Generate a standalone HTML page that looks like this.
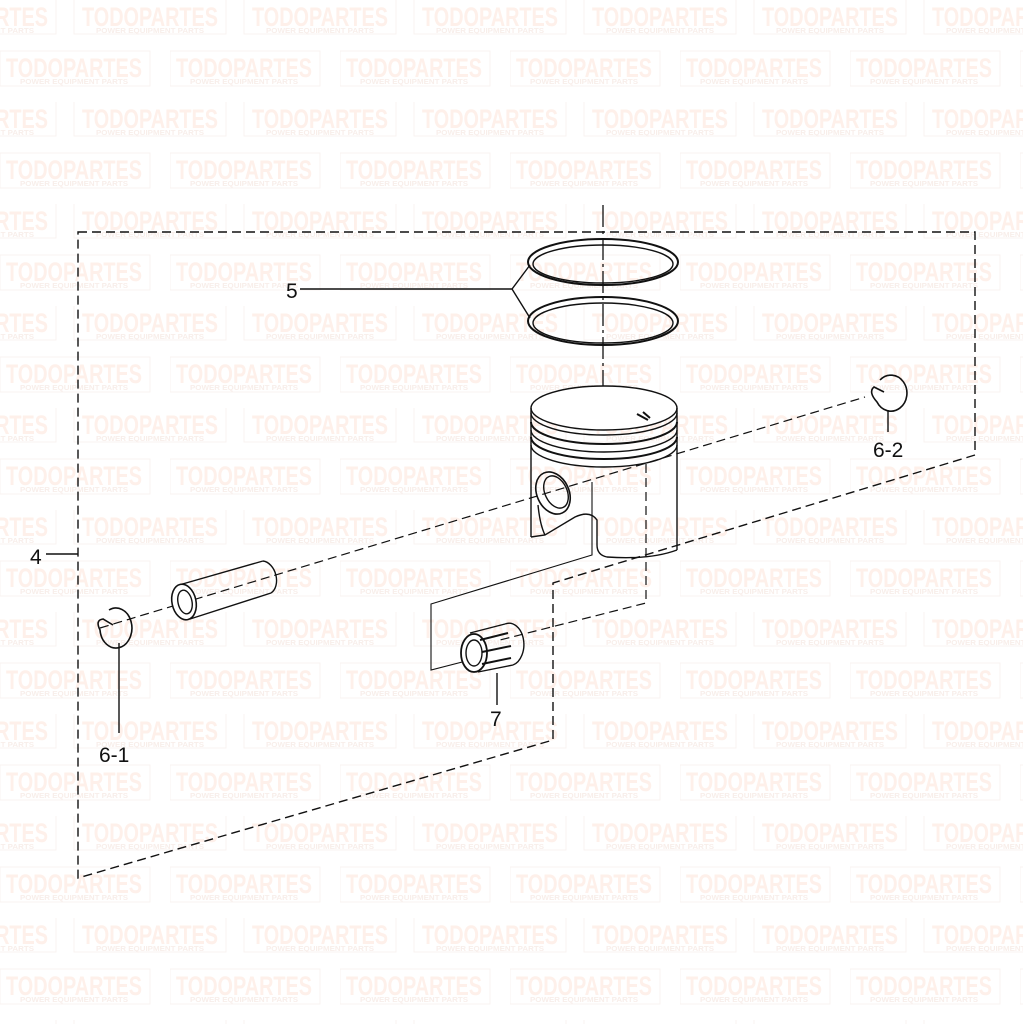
<!DOCTYPE html>
<html><head><meta charset="utf-8"><style>
html,body{margin:0;padding:0;background:#fff}
svg{display:block}
text{font-family:"Liberation Sans",sans-serif}
</style></head><body>
<svg width="1023" height="1024" viewBox="0 0 1023 1024" xmlns="http://www.w3.org/2000/svg">
<defs>
<pattern id="wm" x="0" y="0" width="170" height="102" patternUnits="userSpaceOnUse">
 <g fill="#fef0ea" stroke="none" font-weight="bold">
  <rect x="74" y="-1" width="152" height="35" fill="none" stroke="#f9f3f1"/>
  <text x="82" y="26" font-size="27" textLength="136" lengthAdjust="spacingAndGlyphs">TODOPARTES</text>
  <text x="96" y="33" font-size="7" textLength="108" lengthAdjust="spacingAndGlyphs" fill="#f8eeea">POWER EQUIPMENT PARTS</text>
  <rect x="-96" y="-1" width="152" height="35" fill="none" stroke="#f9f3f1"/>
  <text x="-88" y="26" font-size="27" textLength="136" lengthAdjust="spacingAndGlyphs">TODOPARTES</text>
  <text x="-74" y="33" font-size="7" textLength="108" lengthAdjust="spacingAndGlyphs" fill="#f8eeea">POWER EQUIPMENT PARTS</text>
  <rect x="0" y="51" width="150" height="35" fill="none" stroke="#f9f3f1"/>
  <text x="6" y="77" font-size="27" textLength="136" lengthAdjust="spacingAndGlyphs">TODOPARTES</text>
  <text x="20" y="84" font-size="7" textLength="108" lengthAdjust="spacingAndGlyphs" fill="#f8eeea">POWER EQUIPMENT PARTS</text>
 </g>
</pattern>
</defs>
<rect width="1023" height="1024" fill="url(#wm)"/>

<g fill="none" stroke="#111" stroke-width="1.4">
 <path d="M78 232 H975 V455 L553 583 V740 L78 878 Z" stroke-dasharray="9 5"/>
 <path d="M100 628 L865 397" stroke-dasharray="9 5" stroke-width="1.2"/>
 <path d="M646 464 V603 L500 640" stroke-dasharray="9 5" stroke-width="1.2"/>
 <path d="M592 482 V555 L431 604 V670 L470 660" stroke-width="1.1"/>
 <path d="M603 205 V420" stroke-dasharray="22 4 3 4" stroke-width="1.3"/>

 <ellipse cx="603" cy="262" rx="75" ry="23" stroke-width="2"/>
 <ellipse cx="603" cy="264" rx="70" ry="19"/>
 <ellipse cx="603" cy="321" rx="75" ry="24" stroke-width="2"/>
 <ellipse cx="603" cy="323" rx="70" ry="20"/>

 <ellipse cx="604" cy="408" rx="73" ry="22" fill="#fff"/>
 <path d="M531 413 A73 22 0 0 0 677 413"/>
 <path d="M531 422 A73 22 0 0 0 677 422" stroke-width="2"/>
 <path d="M531 430 A73 22 0 0 0 677 430"/>
 <path d="M531 437 A73 22 0 0 0 677 437" stroke-width="2"/>
 <path d="M531 445 A73 22 0 0 0 677 445"/>
 <path d="M531 408 V537"/>
 <path d="M677 408 V550"/>
 <path d="M677 550 Q650 560 607 557 Q597 555 597 545 V520 Q590 510 575 517 L545 535 L531 537"/>
 <ellipse cx="553" cy="493" rx="16" ry="22" transform="rotate(-25 553 493)" stroke-width="1.6"/>
 <ellipse cx="556" cy="492" rx="11" ry="17" transform="rotate(-25 556 492)"/>
 <path d="M538 505 Q540 525 545 535"/>
 <path d="M637 414 L648 420 M643 412 L650 418" stroke-width="2"/>

 <path d="M179 585 L263 561 M190 619 L271 593"/>
 <path d="M263 561 A12 17 -15 0 1 271 593"/>
 <ellipse cx="184" cy="602" rx="12" ry="18" transform="rotate(-12 184 602)" fill="#fff" stroke-width="1.6"/>
 <ellipse cx="185" cy="602" rx="7" ry="12" transform="rotate(-12 185 602)"/>

 <path d="M109 610 A16 20 0 1 1 100 630 Q95 620 103 619 L113 625" stroke-width="1.6"/>
 <path d="M119 643 V733"/>
 <path d="M880 380 A16 18 0 1 1 877 402 Q868 392 874 387 L884 392" stroke-width="1.6"/>
 <path d="M888 410 V432"/>

 <path d="M470 633 L505 624 M478 672 L513 665"/>
 <path d="M505 624 A14 20 0 0 1 513 665"/>
 <ellipse cx="474" cy="653" rx="13" ry="19" fill="#fff" stroke-width="1.8"/>
 <ellipse cx="474" cy="653" rx="8" ry="13"/>
 <path d="M480 640 L508 633 M482 652 L511 646 M482 664 L511 658" stroke-width="2"/>
 <path d="M497 673 V705"/>

 <path d="M300 289 H512 L530 265 M512 289 L530 318"/>
 <path d="M46 554 H78"/>
</g>

<g fill="#111" font-size="21">
 <text x="286" y="298">5</text>
 <text x="30" y="564">4</text>
 <text x="99" y="762">6-1</text>
 <text x="873" y="457">6-2</text>
 <text x="490" y="726">7</text>
</g>
</svg>
</body></html>
